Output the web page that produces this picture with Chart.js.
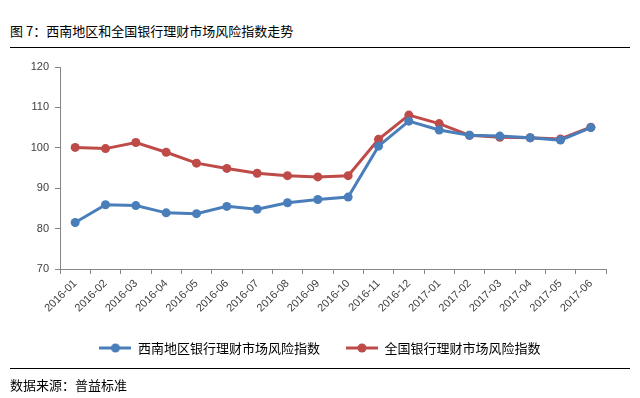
<!DOCTYPE html>
<html lang="zh-CN">
<head>
  <meta charset="UTF-8" />
  <title>图 7：西南地区和全国银行理财市场风险指数走势</title>
  <script src="https://cdn.jsdelivr.net/npm/chart.js"></script>
  <style>
    body { margin: 0; background: #fff; font-family: "Noto Sans CJK SC", sans-serif; }
    #wrap { position: relative; width: 640px; height: 398px; overflow: hidden; }
    #chart { position: absolute; left: 0; top: 0; }
    .title { position: absolute; left: 10px; top: 22px; font-size: 13px; line-height: 18px; color: #000; }
    .rule { position: absolute; left: 10px; width: 620px; height: 1px; background: #000; }
    .source { position: absolute; left: 10px; top: 376px; font-size: 13px; line-height: 18px; color: #000; }
  </style>
</head>
<body>
  <div id="wrap">
    <div class="title">图 7：西南地区和全国银行理财市场风险指数走势</div>
    <div class="rule" style="top:47px;"></div>
    <canvas id="chart" width="640" height="398"></canvas>
    <div class="rule" style="top:368px;"></div>
    <div class="source">数据来源：普益标准</div>
  </div>

  <script>
    // data
    const months = ['2016-01', '2016-02', '2016-03', '2016-04', '2016-05', '2016-06',
                    '2016-07', '2016-08', '2016-09', '2016-10', '2016-11', '2016-12',
                    '2017-01', '2017-02', '2017-03', '2017-04', '2017-05', '2017-06'];
    const southwestIndex = [81.5, 85.9, 85.7, 83.9, 83.7, 85.5, 84.8, 86.4, 87.2,
                            87.8, 100.4, 106.6, 104.4, 103.1, 102.9, 102.5, 101.9, 105.0];
    const nationalIndex = [100.1, 99.8, 101.3, 98.9, 96.2, 94.9, 93.7, 93.1, 92.8,
                           93.1, 102.1, 108.1, 106.0, 103.1, 102.6, 102.5, 102.2, 105.1];
    const yTicks = [70, 80, 90, 100, 110, 120];
    const seriesNames = ['西南地区银行理财市场风险指数', '全国银行理财市场风险指数'];

    const blue = '#4A7EBB';
    const red = '#BE4B48';
    const axisColor = '#868686';
    const labelFont = { family: '"Liberation Sans", Arial, sans-serif', size: 11 };

    // line + dot marker for the legend
    function legendMarker(color) {
      const c = document.createElement('canvas');
      c.width = 32; c.height = 10;
      const g = c.getContext('2d');
      g.strokeStyle = color; g.lineWidth = 3;
      g.beginPath(); g.moveTo(0, 5); g.lineTo(32, 5); g.stroke();
      g.fillStyle = color;
      g.beginPath(); g.arc(16, 5, 4.5, 0, Math.PI * 2); g.fill();
      return c;
    }
    const markers = [legendMarker(blue), legendMarker(red)];

    const ctx = document.getElementById('chart').getContext('2d');
    new Chart(ctx, {
      type: 'line',
      data: {
        labels: months,
        datasets: [
          {
            label: seriesNames[0],
            data: southwestIndex,
            borderColor: blue,
            backgroundColor: blue,
            borderWidth: 3,
            pointRadius: 4.5,
            pointBorderWidth: 0,
            pointBackgroundColor: blue,
            tension: 0
          },
          {
            label: seriesNames[1],
            data: nationalIndex,
            borderColor: red,
            backgroundColor: red,
            borderWidth: 3,
            pointRadius: 4.5,
            pointBorderWidth: 0,
            pointBackgroundColor: red,
            tension: 0
          }
        ]
      },
      options: {
        responsive: false,
        animation: false,
        layout: { padding: { top: 67, left: 22, right: 22, bottom: 33.5 } },
        plugins: {
          tooltip: { enabled: false },
          legend: {
            position: 'bottom',
            labels: {
              usePointStyle: true,
              pointStyleWidth: 32,
              padding: 26,
              color: '#000',
              font: { family: '"Noto Sans CJK SC", sans-serif', size: 13 },
              generateLabels: chart => Chart.defaults.plugins.legend.labels.generateLabels(chart)
                .map((item, i) => ({ ...item, pointStyle: markers[i] }))
            }
          }
        },
        scales: {
          x: {
            offset: true,
            grid: { drawOnChartArea: false, drawTicks: true, tickLength: 5, color: axisColor, offset: true },
            border: { color: axisColor },
            ticks: { minRotation: 45, maxRotation: 45, padding: 3, color: '#404040', font: labelFont },
            afterFit: s => { s.height = 46.5; }
          },
          y: {
            min: yTicks[0],
            max: yTicks[yTicks.length - 1],
            afterBuildTicks: s => { s.ticks = yTicks.map(v => ({ value: v })); },
            grid: { drawOnChartArea: false, drawTicks: true, tickLength: 5, color: axisColor },
            border: { color: axisColor },
            ticks: { padding: 6, color: '#404040', font: labelFont },
            afterFit: s => { s.width = 38; }
          },
          // empty right-hand box, only keeps the plot's right edge in place
          yRight: {
            position: 'right',
            grid: { display: false },
            border: { display: false },
            ticks: { display: false },
            afterFit: s => { s.width = 12; }
          }
        }
      }
    });
  </script>
</body>
</html>
